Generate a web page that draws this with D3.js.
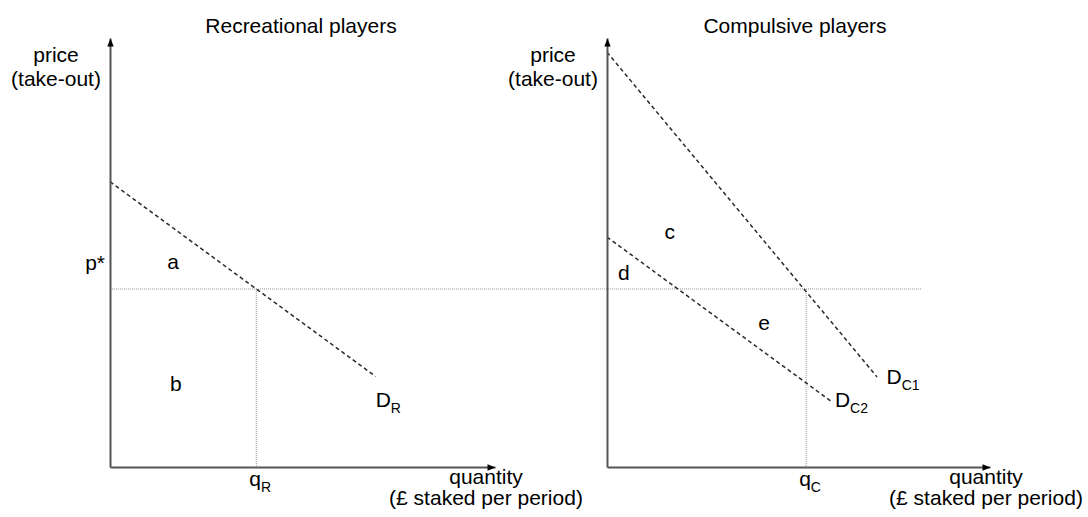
<!DOCTYPE html>
<html>
<head>
<meta charset="utf-8">
<script src="https://cdn.jsdelivr.net/npm/d3@7"></script>
<style>
  html, body { margin: 0; padding: 0; background: #fff; }
  svg { display: block; font-family: "Liberation Sans", Arial, sans-serif; }
</style>
</head>
<body>
<svg id="chart" width="1088" height="517"></svg>
<script>
// ---------- data (abstract units: quantity 0–100, price 0–100) ----------
const panelTitles = ["Recreational players", "Compulsive players"];
const yAxisLabel = ["price", "(take-out)"];
const xAxisLabel = ["quantity", "(£ staked per period)"];

const pStar = 41.5;            // common price p*
const qR = 38;                 // recreational quantity at p*
const qC = 52;                 // compulsive quantity at p*
const pStarLineEnd = 82;       // p* guide extends into the right panel to this quantity

// demand curves: [q, p] end points
const demandR  = [[0, 66.5], [69, 21.1]];
const demandC1 = [[0, 96.7], [70.5, 21]];
const demandC2 = [[0, 53.6], [58.7, 15.2]];

// area labels: [panel, q, p, text]
const areaLabels = [
  [0, 16.4, 46.2, "a"],
  [0, 17.1, 17.7, "b"],
  [1, 16.4, 53.1, "c"],
  [1, 4.4, 43.6, "d"],
  [1, 41.0, 31.9, "e"]
];
// curve labels: [panel, q, p, main, sub]
const curveLabels = [
  [0, 69.0, 14.0, "D", "R"],
  [1, 73.0, 19.3, "D", "C1"],
  [1, 59.5, 14.0, "D", "C2"]
];
// quantity markers on x axis: [panel, q, main, sub]
const qLabels = [
  [0, qR, "q", "R"],
  [1, qC, "q", "C"]
];

// ---------- scales ----------
const svg = d3.select("#chart");
const yScale = d3.scaleLinear().domain([0, 100]).range([467, 38]);
const xScales = [
  d3.scaleLinear().domain([0, 100]).range([110, 495]),
  d3.scaleLinear().domain([0, 100]).range([607, 990])
];

const FS = 21;
const SUB = 14;

// arrow marker
const defs = svg.append("defs");
defs.append("marker")
  .attr("id", "arrow")
  .attr("viewBox", "0 -5 10 10")
  .attr("refX", 10).attr("refY", 0)
  .attr("markerWidth", 10).attr("markerHeight", 8)
  .attr("markerUnits", "userSpaceOnUse")
  .attr("orient", "auto")
  .append("path").attr("d", "M0,-4L10,0L0,4Z").attr("fill", "#000");

const line = (xs) => d3.line().x(d => xs(d[0])).y(d => yScale(d[1]));

// p* horizontal guide spanning both panels
svg.append("line")
  .attr("x1", xScales[0](0)).attr("x2", xScales[1](pStarLineEnd))
  .attr("y1", yScale(pStar)).attr("y2", yScale(pStar))
  .attr("stroke", "#999").attr("stroke-width", 1)
  .attr("stroke-dasharray", "1,1");

// vertical guides
[[0, qR], [1, qC]].forEach(([pi, q]) => {
  svg.append("line")
    .attr("x1", xScales[pi](q)).attr("x2", xScales[pi](q))
    .attr("y1", yScale(pStar)).attr("y2", yScale(0))
    .attr("stroke", "#999").attr("stroke-width", 1)
    .attr("stroke-dasharray", "1,1");
});

// demand curves
[[0, demandR], [1, demandC1], [1, demandC2]].forEach(([pi, d]) => {
  svg.append("path")
    .attr("d", line(xScales[pi])(d))
    .attr("fill", "none").attr("stroke", "#2a2a2a").attr("stroke-width", 1.5)
    .attr("stroke-dasharray", "4,3");
});

// axes
xScales.forEach((xs, pi) => {
  const gx = svg.append("g").attr("transform", `translate(0,${yScale(0)})`)
    .call(d3.axisBottom(xs).tickValues([]).tickSizeOuter(0));
  gx.select(".domain").attr("stroke", "#555").attr("stroke-width", 2)
    .attr("marker-end", "url(#arrow)");
  const gy = svg.append("g").attr("transform", `translate(${xs(0)},0)`)
    .call(d3.axisLeft(yScale).tickValues([]).tickSizeOuter(0));
  gy.select(".domain").attr("stroke", "#555").attr("stroke-width", 2)
    .attr("marker-end", "url(#arrow)");

  // title
  svg.append("text")
    .attr("x", [301, 795][pi]).attr("y", 33)
    .attr("text-anchor", "middle").attr("font-size", FS)
    .text(panelTitles[pi]);

  // y axis label
  yAxisLabel.forEach((t, i) => {
    svg.append("text")
      .attr("x", xs(0) - 54).attr("y", 62 + i * 24)
      .attr("text-anchor", "middle").attr("font-size", FS)
      .text(t);
  });
  // x axis label
  xAxisLabel.forEach((t, i) => {
    svg.append("text")
      .attr("x", xs(100) - [9, 4][pi]).attr("y", 484 + i * 21)
      .attr("text-anchor", "middle").attr("font-size", FS)
      .text(t);
  });
});

// p* label
svg.append("text")
  .attr("x", xScales[0](0) - 5).attr("y", yScale(pStar) - 19)
  .attr("text-anchor", "end").attr("font-size", FS)
  .text("p*");

// area labels
areaLabels.forEach(([pi, q, p, t]) => {
  svg.append("text")
    .attr("x", xScales[pi](q)).attr("y", yScale(p))
    .attr("text-anchor", "middle").attr("font-size", FS)
    .text(t);
});

// curve labels with subscripts
curveLabels.forEach(([pi, q, p, m, s]) => {
  const t = svg.append("text")
    .attr("x", xScales[pi](q)).attr("y", yScale(p))
    .attr("font-size", FS);
  t.append("tspan").text(m);
  t.append("tspan").attr("font-size", SUB).attr("dy", 6).text(s);
});

// quantity labels on x axis
qLabels.forEach(([pi, q, m, s]) => {
  const t = svg.append("text")
    .attr("x", xScales[pi](q) - 7).attr("y", 486)
    .attr("font-size", FS);
  t.append("tspan").text(m);
  t.append("tspan").attr("font-size", SUB).attr("dy", 6).text(s);
});
</script>
</body>
</html>
